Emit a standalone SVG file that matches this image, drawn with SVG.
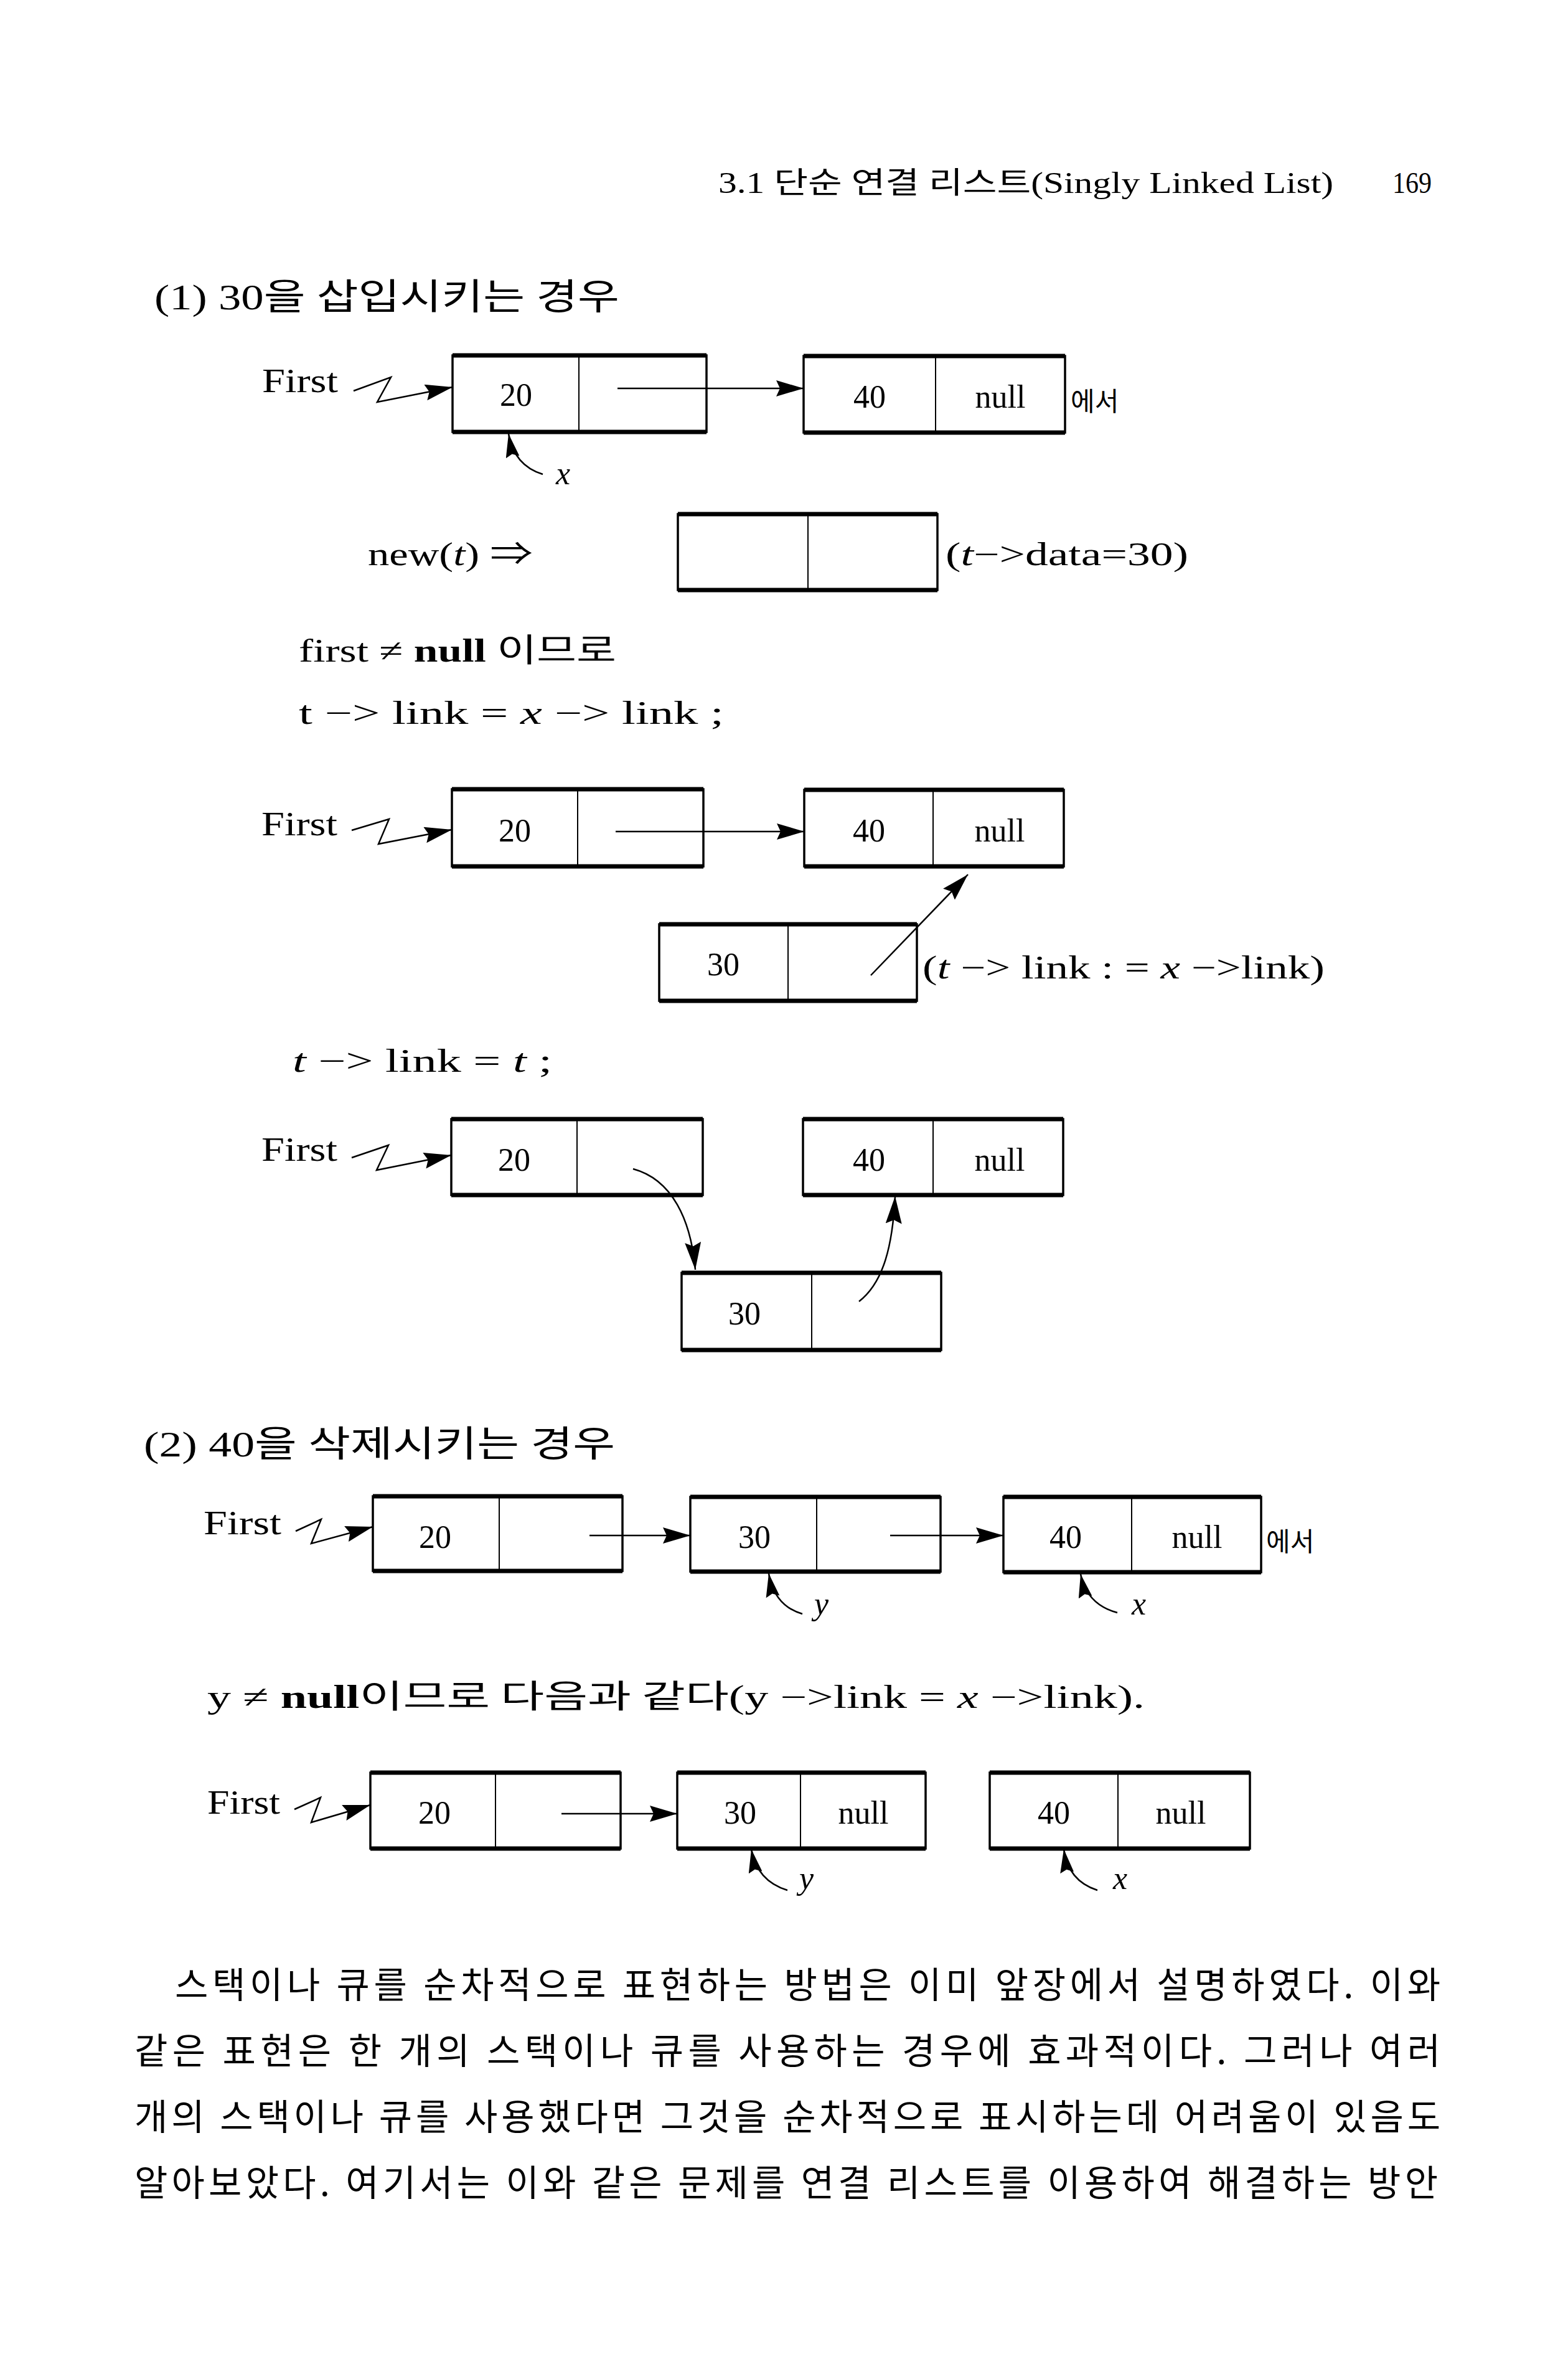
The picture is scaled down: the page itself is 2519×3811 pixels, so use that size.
<svg xmlns="http://www.w3.org/2000/svg" width="2519" height="3811" viewBox="0 0 2519 3811">
<defs>
<marker id="ah" markerUnits="userSpaceOnUse" markerWidth="46" markerHeight="28" refX="44" refY="13" orient="auto">
<path d="M0,0 L44,13 L0,26 L6,13 Z" fill="#000"/>
</marker>
<marker id="ps" markerUnits="userSpaceOnUse" markerWidth="40" markerHeight="24" refX="38" refY="11" orient="auto">
<path d="M0,0 L38,11 L0,22 L5,11 Z" fill="#000"/>
</marker>
</defs>
<style>
text{font-family:"Liberation Serif","Noto Sans CJK KR",serif;fill:#000}
.hd{font-size:48px}
.ti{font-size:58px}
.fs{font-size:54px}
.nm{font-size:52px;text-anchor:middle}
.lb{font-size:52px}
.ko{font-family:"Noto Sans CJK KR",sans-serif}
.par{font-family:"Noto Sans CJK KR",sans-serif;font-size:58px}
.it{font-style:italic}
.box{fill:#fff;stroke:#000;stroke-width:3.5}
.tb{stroke:#000;stroke-width:7;fill:none}
.dv{stroke:#000;stroke-width:2;fill:none}
.ln{stroke:#000;stroke-width:2.5;fill:none}
.arr{stroke:#000;stroke-width:2.5;fill:none;marker-end:url(#ah)}
.ptr{stroke:#000;stroke-width:2.5;fill:none;marker-end:url(#ps)}
</style>
<rect width="2519" height="3811" fill="#fff"/>

<g id="header">
<text class="hd" x="1154" y="310" textLength="988" lengthAdjust="spacingAndGlyphs">3.1  단순 연결 리스트(Singly Linked List)</text>
<text class="hd" x="2237" y="310" textLength="63" lengthAdjust="spacingAndGlyphs">169</text>
</g>

<g id="title1"><text class="ti" x="248" y="497" textLength="747" lengthAdjust="spacingAndGlyphs">(1) 30을 삽입시키는 경우</text></g>

<!-- Diagram 1 -->
<g id="d1-first"><text class="fs" x="421" y="630" textLength="122" lengthAdjust="spacingAndGlyphs">First</text></g>
<g id="d1-n20">
<rect class="box" x="727" y="571" width="408" height="123"/>
<line class="tb" x1="727" y1="571" x2="1135" y2="571"/><line class="tb" x1="727" y1="694" x2="1135" y2="694"/>
<line class="dv" x1="930" y1="571" x2="930" y2="694"/>
<text class="nm" x="829" y="652">20</text>
</g>
<g id="d1-n40">
<rect class="box" x="1291" y="572" width="420" height="123"/>
<line class="tb" x1="1291" y1="572" x2="1711" y2="572"/><line class="tb" x1="1291" y1="695" x2="1711" y2="695"/>
<line class="dv" x1="1503" y1="572" x2="1503" y2="695"/>
<text class="nm" x="1397" y="655">40</text>
<text class="nm" x="1607" y="655">null</text>
</g>
<g id="d1-label"><text class="ko" x="1720" y="660" font-size="42">에서</text></g>
<g id="d1-x"><text class="lb it" x="893" y="778">x</text></g>

<!-- new(t) -->
<g id="newt-label"><text class="lb" x="591" y="908" textLength="265" lengthAdjust="spacingAndGlyphs">new(<tspan class="it">t</tspan>) ⇒</text></g>
<g id="newt-node">
<rect class="box" x="1089" y="826" width="417" height="122"/>
<line class="tb" x1="1089" y1="826" x2="1506" y2="826"/><line class="tb" x1="1089" y1="948" x2="1506" y2="948"/>
<line class="dv" x1="1298" y1="826" x2="1298" y2="948"/>
</g>
<g id="newt-note"><text class="lb" x="1519" y="908" textLength="390" lengthAdjust="spacingAndGlyphs">(<tspan class="it">t</tspan>−&gt;data=30)</text></g>

<g id="cond1"><text class="lb" x="480" y="1063" textLength="510" lengthAdjust="spacingAndGlyphs">first ≠ <tspan font-weight="bold">null</tspan> <tspan class="ko">이므로</tspan></text></g>
<g id="stmt1"><text class="lb" x="480" y="1163" textLength="683" lengthAdjust="spacingAndGlyphs">t −&gt;  link =  <tspan class="it">x</tspan> −&gt; link ;</text></g>

<!-- Diagram 2 -->
<g id="d2-first"><text class="fs" x="420" y="1342" textLength="122" lengthAdjust="spacingAndGlyphs">First</text></g>
<g id="d2-n20">
<rect class="box" x="726" y="1268" width="404" height="124"/>
<line class="tb" x1="726" y1="1268" x2="1130" y2="1268"/><line class="tb" x1="726" y1="1392" x2="1130" y2="1392"/>
<line class="dv" x1="928" y1="1268" x2="928" y2="1392"/>
<text class="nm" x="827" y="1352">20</text>
</g>
<g id="d2-n40">
<rect class="box" x="1292" y="1269" width="417" height="123"/>
<line class="tb" x1="1292" y1="1269" x2="1709" y2="1269"/><line class="tb" x1="1292" y1="1392" x2="1709" y2="1392"/>
<line class="dv" x1="1499" y1="1269" x2="1499" y2="1392"/>
<text class="nm" x="1396" y="1352">40</text>
<text class="nm" x="1606" y="1352">null</text>
</g>
<g id="d2-n30">
<rect class="box" x="1059" y="1485" width="414" height="123"/>
<line class="tb" x1="1059" y1="1485" x2="1473" y2="1485"/><line class="tb" x1="1059" y1="1608" x2="1473" y2="1608"/>
<line class="dv" x1="1266" y1="1485" x2="1266" y2="1608"/>
<text class="nm" x="1162" y="1567">30</text>
</g>
<g id="d2-note"><text class="lb" x="1482" y="1572" textLength="646" lengthAdjust="spacingAndGlyphs">(<tspan class="it">t</tspan> −&gt; link : =  <tspan class="it">x</tspan> −&gt;link)</text></g>

<g id="stmt2"><text class="lb" x="470" y="1722" textLength="417" lengthAdjust="spacingAndGlyphs"><tspan class="it">t</tspan> −&gt; link = <tspan class="it">t</tspan> ;</text></g>

<!-- Diagram 3 -->
<g id="d3-first"><text class="fs" x="420" y="1865" textLength="122" lengthAdjust="spacingAndGlyphs">First</text></g>
<g id="d3-n20">
<rect class="box" x="725" y="1798" width="404" height="122"/>
<line class="tb" x1="725" y1="1798" x2="1129" y2="1798"/><line class="tb" x1="725" y1="1920" x2="1129" y2="1920"/>
<line class="dv" x1="927" y1="1798" x2="927" y2="1920"/>
<text class="nm" x="826" y="1881">20</text>
</g>
<g id="d3-n40">
<rect class="box" x="1290" y="1798" width="418" height="122"/>
<line class="tb" x1="1290" y1="1798" x2="1708" y2="1798"/><line class="tb" x1="1290" y1="1920" x2="1708" y2="1920"/>
<line class="dv" x1="1499" y1="1798" x2="1499" y2="1920"/>
<text class="nm" x="1396" y="1881">40</text>
<text class="nm" x="1606" y="1881">null</text>
</g>
<g id="d3-n30">
<rect class="box" x="1095" y="2045" width="417" height="124"/>
<line class="tb" x1="1095" y1="2045" x2="1512" y2="2045"/><line class="tb" x1="1095" y1="2169" x2="1512" y2="2169"/>
<line class="dv" x1="1304" y1="2045" x2="1304" y2="2169"/>
<text class="nm" x="1196" y="2128">30</text>
</g>

<g id="title2"><text class="ti" x="231" y="2340" textLength="757" lengthAdjust="spacingAndGlyphs">(2) 40을 삭제시키는 경우</text></g>

<!-- Diagram 4 -->
<g id="d4-first"><text class="fs" x="327" y="2465" textLength="125" lengthAdjust="spacingAndGlyphs">First</text></g>
<g id="d4-n20">
<rect class="box" x="599" y="2404" width="401" height="120"/>
<line class="tb" x1="599" y1="2404" x2="1000" y2="2404"/><line class="tb" x1="599" y1="2524" x2="1000" y2="2524"/>
<line class="dv" x1="802" y1="2404" x2="802" y2="2524"/>
<text class="nm" x="699" y="2487">20</text>
</g>
<g id="d4-n30">
<rect class="box" x="1109" y="2405" width="402" height="120"/>
<line class="tb" x1="1109" y1="2405" x2="1511" y2="2405"/><line class="tb" x1="1109" y1="2525" x2="1511" y2="2525"/>
<line class="dv" x1="1312" y1="2405" x2="1312" y2="2525"/>
<text class="nm" x="1212" y="2487">30</text>
</g>
<g id="d4-n40">
<rect class="box" x="1612" y="2405" width="414" height="121"/>
<line class="tb" x1="1612" y1="2405" x2="2026" y2="2405"/><line class="tb" x1="1612" y1="2526" x2="2026" y2="2526"/>
<line class="dv" x1="1818" y1="2405" x2="1818" y2="2526"/>
<text class="nm" x="1712" y="2487">40</text>
<text class="nm" x="1923" y="2487">null</text>
</g>
<g id="d4-label"><text class="ko" x="2034" y="2492" font-size="42">에서</text></g>
<g id="d4-y"><text class="lb it" x="1308" y="2594">y</text></g>
<g id="d4-x"><text class="lb it" x="1818" y="2594">x</text></g>

<g id="cond2"><text class="lb" x="333" y="2744" textLength="1506" lengthAdjust="spacingAndGlyphs">y ≠ <tspan font-weight="bold">null</tspan><tspan class="ko">이므로 다음과 같다</tspan>(y −&gt;link = <tspan class="it">x</tspan> −&gt;link).</text></g>

<!-- Diagram 5 -->
<g id="d5-first"><text class="fs" x="333" y="2914" textLength="117" lengthAdjust="spacingAndGlyphs">First</text></g>
<g id="d5-n20">
<rect class="box" x="595" y="2848" width="402" height="122"/>
<line class="tb" x1="595" y1="2848" x2="997" y2="2848"/><line class="tb" x1="595" y1="2970" x2="997" y2="2970"/>
<line class="dv" x1="796" y1="2848" x2="796" y2="2970"/>
<text class="nm" x="698" y="2930">20</text>
</g>
<g id="d5-n30">
<rect class="box" x="1088" y="2848" width="399" height="122"/>
<line class="tb" x1="1088" y1="2848" x2="1487" y2="2848"/><line class="tb" x1="1088" y1="2970" x2="1487" y2="2970"/>
<line class="dv" x1="1286" y1="2848" x2="1286" y2="2970"/>
<text class="nm" x="1189" y="2930">30</text>
<text class="nm" x="1387" y="2930">null</text>
</g>
<g id="d5-n40">
<rect class="box" x="1590" y="2848" width="418" height="122"/>
<line class="tb" x1="1590" y1="2848" x2="2008" y2="2848"/><line class="tb" x1="1590" y1="2970" x2="2008" y2="2970"/>
<line class="dv" x1="1796" y1="2848" x2="1796" y2="2970"/>
<text class="nm" x="1693" y="2930">40</text>
<text class="nm" x="1897" y="2930">null</text>
</g>
<g id="d5-y"><text class="lb it" x="1284" y="3035">y</text></g>
<g id="d5-x"><text class="lb it" x="1788" y="3035">x</text></g>

<g id="connectors">
<path class="arr" d="M568,628 L628,606 L606,646 L727,622"/>
<path class="arr" d="M992,624 L1291,624"/>
<path class="ptr" d="M872,762 Q826,748 817,697"/>
<path class="arr" d="M565,1334 L625,1316 L608,1356 L726,1333"/>
<path class="arr" d="M989,1336 L1292,1336"/>
<path class="arr" d="M1399,1567 L1555,1405"/>
<path class="arr" d="M565,1860 L624,1840 L605,1880 L725,1856"/>
<path class="arr" d="M1017,1878 C1080,1895 1110,1960 1117,2040"/>
<path class="arr" d="M1380,2091 C1420,2060 1434,2000 1438,1922"/>
<path class="arr" d="M475,2460 L516,2441 L500,2480 L599,2453"/>
<path class="arr" d="M947,2467 L1109,2467"/>
<path class="arr" d="M1430,2467 L1612,2467"/>
<path class="ptr" d="M1289,2593 Q1244,2580 1235,2528"/>
<path class="ptr" d="M1795,2591 Q1746,2578 1736,2529"/>
<path class="arr" d="M473,2907 L515,2888 L500,2928 L595,2900"/>
<path class="arr" d="M902,2914 L1088,2914"/>
<path class="ptr" d="M1265,3037 Q1216,3022 1207,2971"/>
<path class="ptr" d="M1763,3037 Q1716,3022 1709,2971"/>
</g>

<g id="paragraph">
<text class="par" x="281" y="3210" textLength="2033" lengthAdjust="spacing">스택이나 큐를 순차적으로 표현하는 방법은 이미 앞장에서 설명하였다. 이와</text>
<text class="par" x="216" y="3316" textLength="2098" lengthAdjust="spacing">같은 표현은 한 개의 스택이나 큐를 사용하는 경우에 효과적이다. 그러나 여러</text>
<text class="par" x="216" y="3422" textLength="2098" lengthAdjust="spacing">개의 스택이나 큐를 사용했다면 그것을 순차적으로 표시하는데 어려움이 있음도</text>
<text class="par" x="216" y="3528" textLength="2094" lengthAdjust="spacing">알아보았다. 여기서는 이와 같은 문제를 연결 리스트를 이용하여 해결하는 방안</text>
</g>
</svg>
